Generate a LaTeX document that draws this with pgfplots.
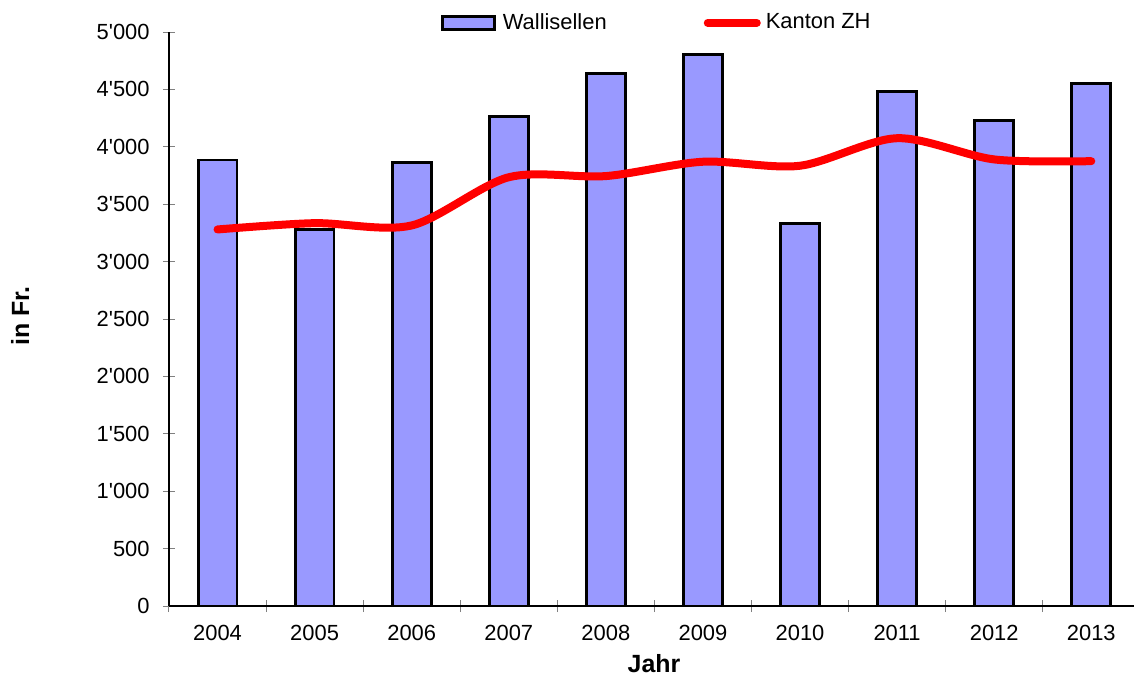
\documentclass[border=0pt]{standalone}
\usepackage{pgfplots}
\pgfplotsset{compat=1.18}
\usepackage{fontspec}
\setmainfont{Liberation Sans}
\definecolor{barblue}{HTML}{9999FF}
\begin{document}
\begin{tikzpicture}
\begin{axis}[name=ax, at={(0,0)}, anchor=south west,
  scale only axis, width=482.5bp, height=287bp,
  xmin=-0.5, xmax=9.44, ymin=0, ymax=5000,
  axis x line=bottom, axis y line=left,
  axis line style={-, line width=0.75bp, black},
  tick align=center, major tick length=6bp, minor tick length=6bp,
  xtick={0,1,2,3,4,5,6,7,8,9},
  xticklabels={2004,2005,2006,2007,2008,2009,2010,2011,2012,2013},
  major x tick style={draw=none},
  minor xtick={-0.5,0.5,1.5,2.5,3.5,4.5,5.5,6.5,7.5,8.5},
  minor x tick style={gray, line width=0.5bp},
  ytick={0,500,...,5000}, y tick style={gray, line width=0.5bp},
  /pgf/number format/assume math mode=true,
  /pgf/number format/1000 sep={\textquotesingle},
  tick label style={font=\fontsize{11}{13}\selectfont},
  yticklabel style={anchor=east, inner sep=0pt, xshift=-6.5bp},
  xticklabel style={anchor=north, inner sep=0pt, yshift=-6.5bp},
  xlabel={\bfseries Jahr},
  xlabel style={at={(axis description cs:0.5026,-0.101)}, anchor=center, font=\fontsize{12.5}{14}\selectfont},
  ylabel={\bfseries in Fr.},
  ylabel style={at={(axis description cs:-0.1544,0.505)}, anchor=center, rotate=0, font=\fontsize{12.5}{14}\selectfont},
  legend columns=2,
  legend style={at={(axis description cs:0.506,1.016)}, anchor=center, draw=none, fill=none,
    font=\fontsize{11}{13}\selectfont,
    /tikz/every even column/.append style={column sep=47bp},
    nodes={inner xsep=1.5bp}},
]
\addplot[ybar, bar width=0.40, fill=barblue, draw=black, line width=1.4bp,
  legend image code/.code={\draw[fill=barblue, draw=black, line width=1.4bp] (0bp,-3.25bp) rectangle (26bp,3.25bp); \path (28bp,0bp);}]
  coordinates {(0,3885) (1,3281) (2,3863) (3,4261) (4,4640) (5,4805) (6,3331) (7,4485) (8,4232) (9,4552)};
\addlegendentry{Wallisellen}
\addplot[red, line width=4bp, smooth, tension=0.5, line cap=round,
  legend image code/.code={\draw[red, line width=4bp, line cap=round] (2bp,0bp) -- (26.5bp,0bp); \path (27.5bp,0bp);}]
  coordinates {(0,3280) (1,3335) (2,3315) (3,3735) (4,3745) (5,3870) (6,3835) (7,4075) (8,3890) (9,3875)};
\addlegendentry{Kanton ZH}
\end{axis}
\pgfresetboundingbox
\path[use as bounding box] (-84.5bp,-36.5bp) rectangle (482.5bp,303bp);
\end{tikzpicture}
\end{document}
